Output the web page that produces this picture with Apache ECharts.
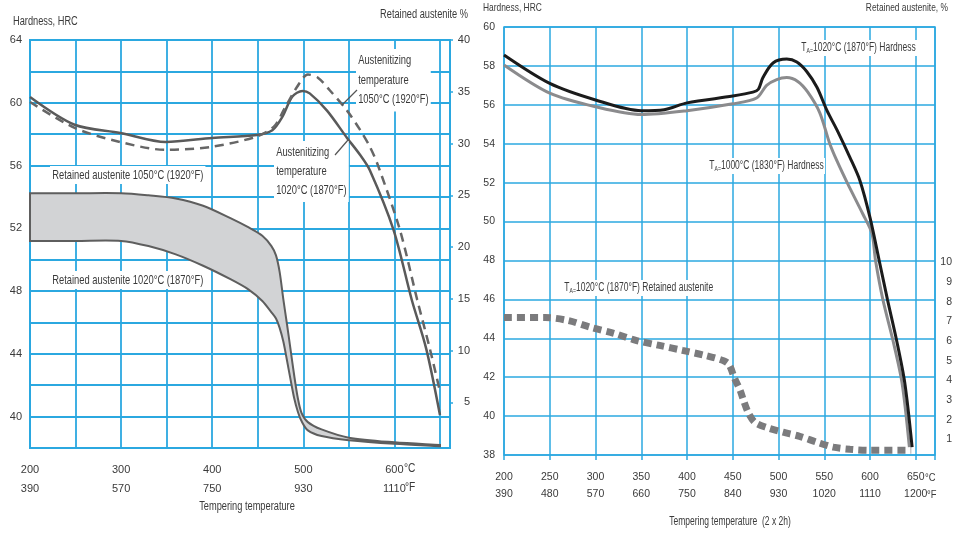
<!DOCTYPE html>
<html><head><meta charset="utf-8">
<script src="https://cdn.jsdelivr.net/npm/echarts@6/dist/echarts.min.js"></script>
<style>html,body{margin:0;padding:0;background:#fff}#c{width:959px;height:533px}</style>
</head><body><div id="c"></div>
<script>
// ---------- LEFT CHART DATA ----------
const leftTickC = [200, 300, 400, 500, 600];
const leftTickF = [390, 570, 750, 930, 1110];
const leftRaTicks = [5, 10, 15, 20, 25, 30, 35, 40];

// Hardness, austenitizing 1020°C (solid)
const hard1020Temp = [200, 249, 299, 349, 400, 449, 466, 477, 488, 499, 507, 526, 548, 562, 573, 599, 619, 635, 650];
const hard1020HRC  = [60.37, 58.6, 58.08, 57.5, 57.76, 57.95, 58.25, 59.1, 60.4, 60.75, 60.6, 59.5, 57.76, 56.7, 55.7, 51.9, 47.45, 44.3, 40.1];

// Hardness, austenitizing 1050°C (dashed)
const hard1050Temp = [200, 249, 299, 349, 400, 449, 468, 480, 493, 505, 516, 529, 548, 562, 573, 582, 606, 625, 639, 650];
const hard1050HRC  = [60.05, 58.4, 57.5, 57.0, 57.2, 57.85, 58.5, 59.7, 61.0, 61.8, 61.6, 60.8, 59.5, 58.3, 57.2, 56.0, 51.9, 47.45, 44.3, 41.6];

// Retained austenite band (%), upper = 1050°C, lower = 1020°C
const bandTemp   = [200, 250, 300, 330, 360, 390, 420, 440, 455, 465, 470, 474, 478, 482, 486, 490, 494, 498, 505, 520, 550, 600, 650];
const ra1050     = [25.2, 25.2, 25.2, 25.0, 24.7, 24.0, 22.8, 21.9, 21.1, 20.1, 19.2, 17.6, 15.0, 12.6, 10.1, 7.6, 5.4, 4.0, 3.1, 2.4, 1.6, 1.15, 0.9];
const ra1020     = [20.6, 20.6, 20.6, 20.1, 19.3, 18.2, 16.9, 15.9, 14.8, 13.7, 13.1, 12.2, 10.9, 9.1, 7.2, 5.4, 4.1, 3.2, 2.3, 1.75, 1.35, 1.0, 0.78];

// ---------- RIGHT CHART DATA ----------
const rightTickC = [200, 250, 300, 350, 400, 450, 500, 550, 600, 650];
const rightTickF = [390, 480, 570, 660, 750, 840, 930, 1020, 1110, 1200];
const rightRaTicks = [1, 2, 3, 4, 5, 6, 7, 8, 9, 10];

// TA = 1020°C hardness (black)
const taHard1020Temp = [200, 250, 300, 350, 375, 400, 450, 472, 478, 483, 494, 509, 520, 531, 542, 553, 564, 578, 589, 600, 610, 619, 629, 638, 646];
const taHard1020HRC  = [58.56, 57.1, 56.25, 55.7, 55.75, 56.1, 56.45, 56.65, 56.8, 57.4, 58.15, 58.35, 58.2, 57.7, 56.9, 55.7, 54.7, 53.3, 52.1, 50.2, 48.0, 46.0, 43.9, 41.7, 38.4];

// TA = 1000°C hardness (grey)
const taHard1000Temp = [200, 250, 300, 350, 400, 450, 476, 487, 498, 509, 521, 532, 545, 556, 564, 575, 592, 602, 606, 614, 625, 635, 643];
const taHard1000HRC  = [58.05, 56.6, 55.9, 55.5, 55.7, 56.05, 56.35, 57.0, 57.3, 57.4, 57.2, 56.65, 55.6, 54.0, 53.1, 52.0, 50.4, 49.4, 48.0, 46.0, 43.9, 41.7, 38.4];

// TA = 1020°C retained austenite (%)
const taRaTemp = [200, 245, 270, 295, 320, 345, 370, 395, 420, 440, 446, 452, 458, 462, 467, 474, 487, 505, 523, 542, 560, 578, 600, 645];
const taRaPct  = [7.2, 7.2, 7.05, 6.7, 6.4, 6.03, 5.78, 5.53, 5.27, 5.0, 4.8, 4.1, 3.5, 2.95, 2.35, 1.87, 1.6, 1.36, 1.15, 0.85, 0.6, 0.49, 0.44, 0.44];

// ---------- STYLE ----------
const BLUE = '#2ba8e0';
const TXT = '#3a3a3a';
const FONT = "'Liberation Sans',Arial,sans-serif";

const zip = (xs, ys) => xs.map((x, i) => [x, ys[i]]);
const xFmt = (cArr, fArr) => v => { const i = cArr.indexOf(Math.round(v)); return i < 0 ? '' : cArr[i] + '\n' + fArr[i]; };
const inList = (arr) => v => arr.indexOf(Math.round(v * 100) / 100) >= 0 ? String(Math.round(v)) : '';

// text helper; sx squeezes glyphs horizontally to imitate the condensed typeface
function txt(text, x, y, opts) {
  opts = opts || {};
  return {
    type: 'text', z: 100, x: x, y: y, scaleX: opts.sx || 0.74, originX: 0, originY: 0,
    style: Object.assign({
      text: text, x: 0, y: 0, fill: TXT,
      font: (opts.size || 12) + 'px ' + FONT,
      align: opts.align || 'left', textAlign: opts.align || 'left',
      verticalAlign: opts.va || 'middle', textVerticalAlign: opts.va || 'middle',
      lineHeight: opts.lh || 14
    }, opts.bg ? { backgroundColor: '#fff', padding: opts.pad || [2, 3] } : {}, opts.rich ? { rich: opts.rich } : {})
  };
}
const subRich = { s: { fontSize: 7.5, fontFamily: FONT, fill: TXT, verticalAlign: 'bottom', padding: [5, 0, 0, 0] } };

const chart = echarts.init(document.getElementById('c'), null, { renderer: 'canvas' });
const option = {
  animation: false,
  backgroundColor: '#fff',
  textStyle: { fontFamily: FONT },
  grid: [
    { left: 30, top: 40, width: 420, height: 408, show: true, borderColor: BLUE, borderWidth: 2 },
    { left: 504, top: 27, width: 431, height: 428, show: true, borderColor: BLUE, borderWidth: 1.5 }
  ],
  xAxis: [
    { gridIndex: 0, type: 'value', min: 200, max: 661, interval: 50,
      axisLine: { show: false }, axisTick: { show: false },
      splitLine: { show: true, lineStyle: { color: BLUE, width: 1.8 } },
      axisLabel: { formatter: xFmt(leftTickC, leftTickF), fontFamily: FONT, fontSize: 11, color: TXT, lineHeight: 19, margin: 12 } },
    { gridIndex: 1, type: 'value', min: 200, max: 671, interval: 50,
      axisLine: { show: false }, axisTick: { show: true, length: 5, lineStyle: { color: BLUE, width: 1.5 } },
      splitLine: { show: true, lineStyle: { color: BLUE, width: 1.5 } },
      axisLabel: { formatter: xFmt(rightTickC, rightTickF), fontFamily: FONT, fontSize: 10.5, color: TXT, lineHeight: 17, margin: 14 } }
  ],
  yAxis: [
    { gridIndex: 0, type: 'value', min: 38, max: 64, interval: 2,
      axisLine: { show: false }, axisTick: { show: false },
      splitLine: { show: true, lineStyle: { color: BLUE, width: 1.8 } },
      axisLabel: { formatter: v => (v >= 40 && v % 4 === 0) ? String(v) : '', fontFamily: FONT, fontSize: 11, color: TXT, margin: 8, padding: [6, 0, 0, 0] } },
    { gridIndex: 0, type: 'value', position: 'right', min: 0.6, max: 40, minInterval: 5, maxInterval: 5,
      axisLine: { show: false }, splitLine: { show: false },
      axisTick: { show: true, length: 3, inside: false, lineStyle: { color: BLUE, width: 1.5 }, customValues: leftRaTicks },
      axisLabel: { customValues: leftRaTicks, formatter: inList(leftRaTicks), fontFamily: FONT, fontSize: 11, color: TXT, align: 'right', margin: 20 } },
    { gridIndex: 1, type: 'value', min: 38, max: 60, interval: 2,
      axisLine: { show: false }, axisTick: { show: false },
      splitLine: { show: true, lineStyle: { color: BLUE, width: 1.5 } },
      axisLabel: { fontFamily: FONT, fontSize: 10.5, color: TXT, margin: 9 } },
    { gridIndex: 1, type: 'value', position: 'right', min: 0.2, max: 22, minInterval: 1, maxInterval: 1,
      axisLine: { show: false }, splitLine: { show: false }, axisTick: { show: false },
      axisLabel: { customValues: rightRaTicks, formatter: inList(rightRaTicks), fontFamily: FONT, fontSize: 10.5, color: TXT, align: 'right', margin: 17 } }
  ],
  series: [
    { name: 'RA band', type: 'custom', xAxisIndex: 0, yAxisIndex: 1, z: 3,
      data: bandTemp.map((t, i) => [t, ra1050[i], ra1020[i]]),
      encode: { x: 0, y: [1, 2] },
      renderItem: function (params, api) {
        if (params.dataIndex !== 0) return null;
        const up = bandTemp.map((t, i) => api.coord([t, ra1050[i]]));
        const lo = bandTemp.map((t, i) => api.coord([t, ra1020[i]]));
        const n = up.length;
        const pts = [up[0]].concat(up, [up[n - 1], lo[n - 1]], lo.slice().reverse(), [lo[0]]);
        return { type: 'polygon', shape: { points: pts, smooth: 0.3 },
          style: { fill: '#d2d3d5', stroke: '#5e5e5e', lineWidth: 2 } };
      } },
    { name: 'Hardness 1020', type: 'line', xAxisIndex: 0, yAxisIndex: 0, data: zip(hard1020Temp, hard1020HRC),
      smooth: 0.3, showSymbol: false, symbol: 'none', z: 4,
      lineStyle: { color: '#5a5a5a', width: 2.5 } },
    { name: 'Hardness 1050', type: 'line', xAxisIndex: 0, yAxisIndex: 0, data: zip(hard1050Temp, hard1050HRC),
      smooth: 0.3, showSymbol: false, symbol: 'none', z: 4,
      lineStyle: { color: '#666', width: 2.5, type: [9, 6] } },
    { name: 'TA1020 hardness', type: 'line', xAxisIndex: 1, yAxisIndex: 2, data: zip(taHard1020Temp, taHard1020HRC),
      smooth: 0.3, showSymbol: false, symbol: 'none', z: 4,
      lineStyle: { color: '#1b1b1b', width: 3 } },
    { name: 'TA1000 hardness', type: 'line', xAxisIndex: 1, yAxisIndex: 2, data: zip(taHard1000Temp, taHard1000HRC),
      smooth: 0.3, showSymbol: false, symbol: 'none', z: 3,
      lineStyle: { color: '#8b8b8d', width: 3 } },
    { name: 'TA1020 RA', type: 'line', xAxisIndex: 1, yAxisIndex: 3, data: zip(taRaTemp, taRaPct),
      smooth: 0.3, showSymbol: false, symbol: 'none', z: 3,
      lineStyle: { color: '#7b7b7d', width: 7, type: [8, 5], cap: 'butt' } }
  ],
  graphic: [
    // left chart titles
    txt('Hardness, HRC', 13, 22, { size: 12.5 }),
    txt('Retained austenite %', 468, 15, { size: 12.5, align: 'right' }),
    txt('Tempering temperature', 247, 507, { size: 12.5, align: 'center' }),
    txt('°C', 404, 469, { size: 12, sx: 0.85 }),
    txt('°F', 405, 488, { size: 12, sx: 0.85 }),
    // left chart annotations
    txt('Austenitizing\ntemperature\n1050°C (1920°F)', 356, 49, { size: 13, sx: 0.72, va: 'top', lh: 19.5, bg: true }),
    txt('Austenitizing\ntemperature\n1020°C (1870°F)', 274, 141, { size: 13, sx: 0.72, va: 'top', lh: 19, bg: true }),
    txt('Retained austenite 1050°C (1920°F)', 50, 175, { size: 13, sx: 0.72, bg: true }),
    txt('Retained austenite 1020°C (1870°F)', 50, 280, { size: 13, sx: 0.72, bg: true }),
    { type: 'line', z: 101, shape: { x1: 342, y1: 105, x2: 357, y2: 90 }, style: { stroke: '#555', lineWidth: 1.2 } },
    { type: 'line', z: 101, shape: { x1: 335, y1: 155, x2: 348, y2: 140 }, style: { stroke: '#555', lineWidth: 1.2 } },
    // right chart titles
    txt('Hardness, HRC', 483, 8, { size: 11.5, sx: 0.73 }),
    txt('Retained austenite, %', 948, 8, { size: 11.5, sx: 0.73, align: 'right' }),
    txt('Tempering temperature  (2 x 2h)', 730, 522, { size: 12, sx: 0.71, align: 'center' }),
    txt('°C', 925, 478, { size: 11, sx: 0.85 }),
    txt('°F', 927, 495, { size: 11, sx: 0.85 }),
    // right chart annotations
    txt('T{s|A=}1020°C (1870°F) Hardness', 800, 48, { size: 12.5, sx: 0.68, bg: true, pad: [1, 2], rich: subRich }),
    txt('T{s|A=}1000°C (1830°F) Hardness', 708, 166, { size: 12.5, sx: 0.68, bg: true, pad: [1, 2], rich: subRich }),
    txt('T{s|A=}1020°C (1870°F) Retained austenite', 563, 288, { size: 12.5, sx: 0.68, bg: true, pad: [1, 2], rich: subRich })
  ]
};
chart.setOption(option);
</script>
</body></html>
